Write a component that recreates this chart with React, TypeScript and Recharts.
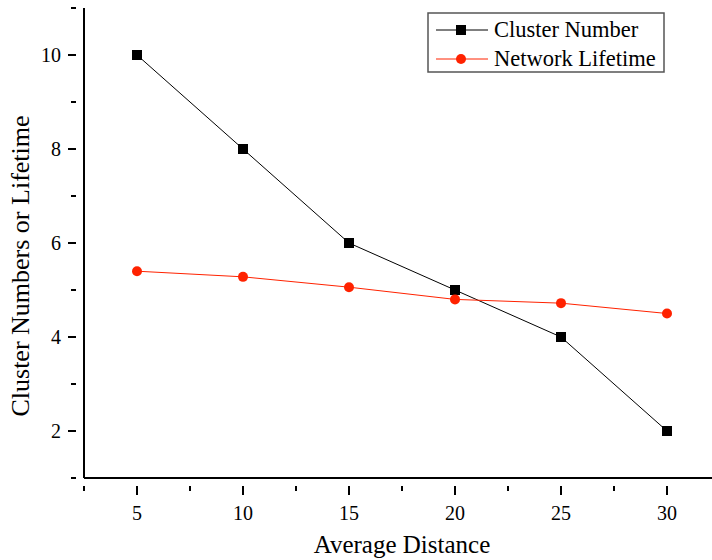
import { LineChart, Line, XAxis, YAxis, Label } from "recharts";

const distances = [5, 10, 15, 20, 25, 30];
const clusterNumber = [10, 8, 6, 5, 4, 2];
const networkLifetime = [5.4, 5.28, 5.06, 4.8, 4.72, 4.5];

const xTicks = [2.5, 5, 7.5, 10, 12.5, 15, 17.5, 20, 22.5, 25, 27.5, 30, 32.5];
const yTicks = [1, 2, 3, 4, 5, 6, 7, 8, 9, 10, 11];

const FONT = "'Liberation Serif', 'Times New Roman', serif";
const RED = "#ff2200";

const data = distances.map((d, i) => ({ d, cluster: clusterNumber[i], life: networkLifetime[i] }));

function XTick(props: any) {
  const { x, y, payload } = props;
  const major = Number.isInteger(payload.value) && payload.value % 5 === 0;
  return (
    <g>
      <line x1={x} y1={y} x2={x} y2={y + (major ? 9 : 5)} stroke="#000" strokeWidth={2} />
      {major && (
        <text x={x} y={y + 34} textAnchor="middle" fontSize={20} fontFamily={FONT} fill="#000">
          {payload.value}
        </text>
      )}
    </g>
  );
}

function YTick(props: any) {
  const { x, y, payload } = props;
  const major = payload.value % 2 === 0;
  return (
    <g>
      <line x1={x} y1={y} x2={x - (major ? 8 : 5)} y2={y} stroke="#000" strokeWidth={2} />
      {major && (
        <text x={x - 15} y={y + 7} textAnchor="end" fontSize={20} fontFamily={FONT} fill="#000">
          {payload.value}
        </text>
      )}
    </g>
  );
}

function Square(props: any) {
  const { cx, cy } = props;
  return <rect x={cx - 5} y={cy - 5} width={10} height={10} fill="#000" />;
}

function LegendBox() {
  const rows = [
    { label: "Cluster Number", color: "#000", square: true },
    { label: "Network Lifetime", color: RED, square: false },
  ];
  return (
    <svg width={240} height={62} style={{ display: "block" }}>
      <rect x={1} y={1} width={236} height={59} fill="#fff" stroke="#555" strokeWidth={1.5} />
      {rows.map((r, i) => {
        const cy = 18 + i * 29;
        return (
          <g key={r.label}>
            <line x1={9} y1={cy} x2={61} y2={cy} stroke={r.color} strokeWidth={1} />
            {r.square ? (
              <rect x={29} y={cy - 5} width={10} height={10} fill="#000" />
            ) : (
              <circle cx={34} cy={cy} r={5} fill={RED} />
            )}
            <text x={67} y={cy + 7} fontSize={22.5} fontFamily={FONT} fill="#000">
              {r.label}
            </text>
          </g>
        );
      })}
    </svg>
  );
}

export default function App() {
  return (
    <div style={{ position: "absolute", left: 0, top: 0, width: 712, height: 560, overflow: "hidden", background: "#fff" }}>
      <LineChart width={730} height={560} data={data} margin={{ top: 8, right: 10, bottom: 0, left: 0 }}>
        <XAxis
          dataKey="d"
          type="number"
          domain={[2.5, 32.5]}
          ticks={xTicks}
          interval={0}
          height={82}
          axisLine={{ stroke: "#000", strokeWidth: 2 }}
          tickLine={false}
          tick={<XTick />}
        >
          <Label
            content={() => (
              <text x={402} y={553} textAnchor="middle" fontSize={25} fontFamily={FONT} fill="#000">
                Average Distance
              </text>
            )}
          />
        </XAxis>
        <YAxis
          type="number"
          domain={[1, 11]}
          ticks={yTicks}
          interval={0}
          width={84}
          axisLine={{ stroke: "#000", strokeWidth: 2 }}
          tickLine={false}
          tick={<YTick />}
        >
          <Label
            content={() => (
              <text
                x={23}
                y={266}
                transform="rotate(-90 23 266)"
                textAnchor="middle"
                dominantBaseline="middle"
                fontSize={26}
                fontFamily={FONT}
                fill="#000"
              >
                Cluster Numbers or Lifetime
              </text>
            )}
          />
        </YAxis>
        <Line
          dataKey="cluster"
          name="Cluster Number"
          stroke="#000"
          strokeWidth={1}
          dot={<Square />}
          isAnimationActive={false}
        />
        <Line
          dataKey="life"
          name="Network Lifetime"
          stroke={RED}
          strokeWidth={1}
          dot={{ r: 5, fill: RED, stroke: RED, strokeWidth: 0 }}
          isAnimationActive={false}
        />
      </LineChart>
      <div style={{ position: "absolute", left: 427, top: 12 }}>
        <LegendBox />
      </div>
    </div>
  );
}
